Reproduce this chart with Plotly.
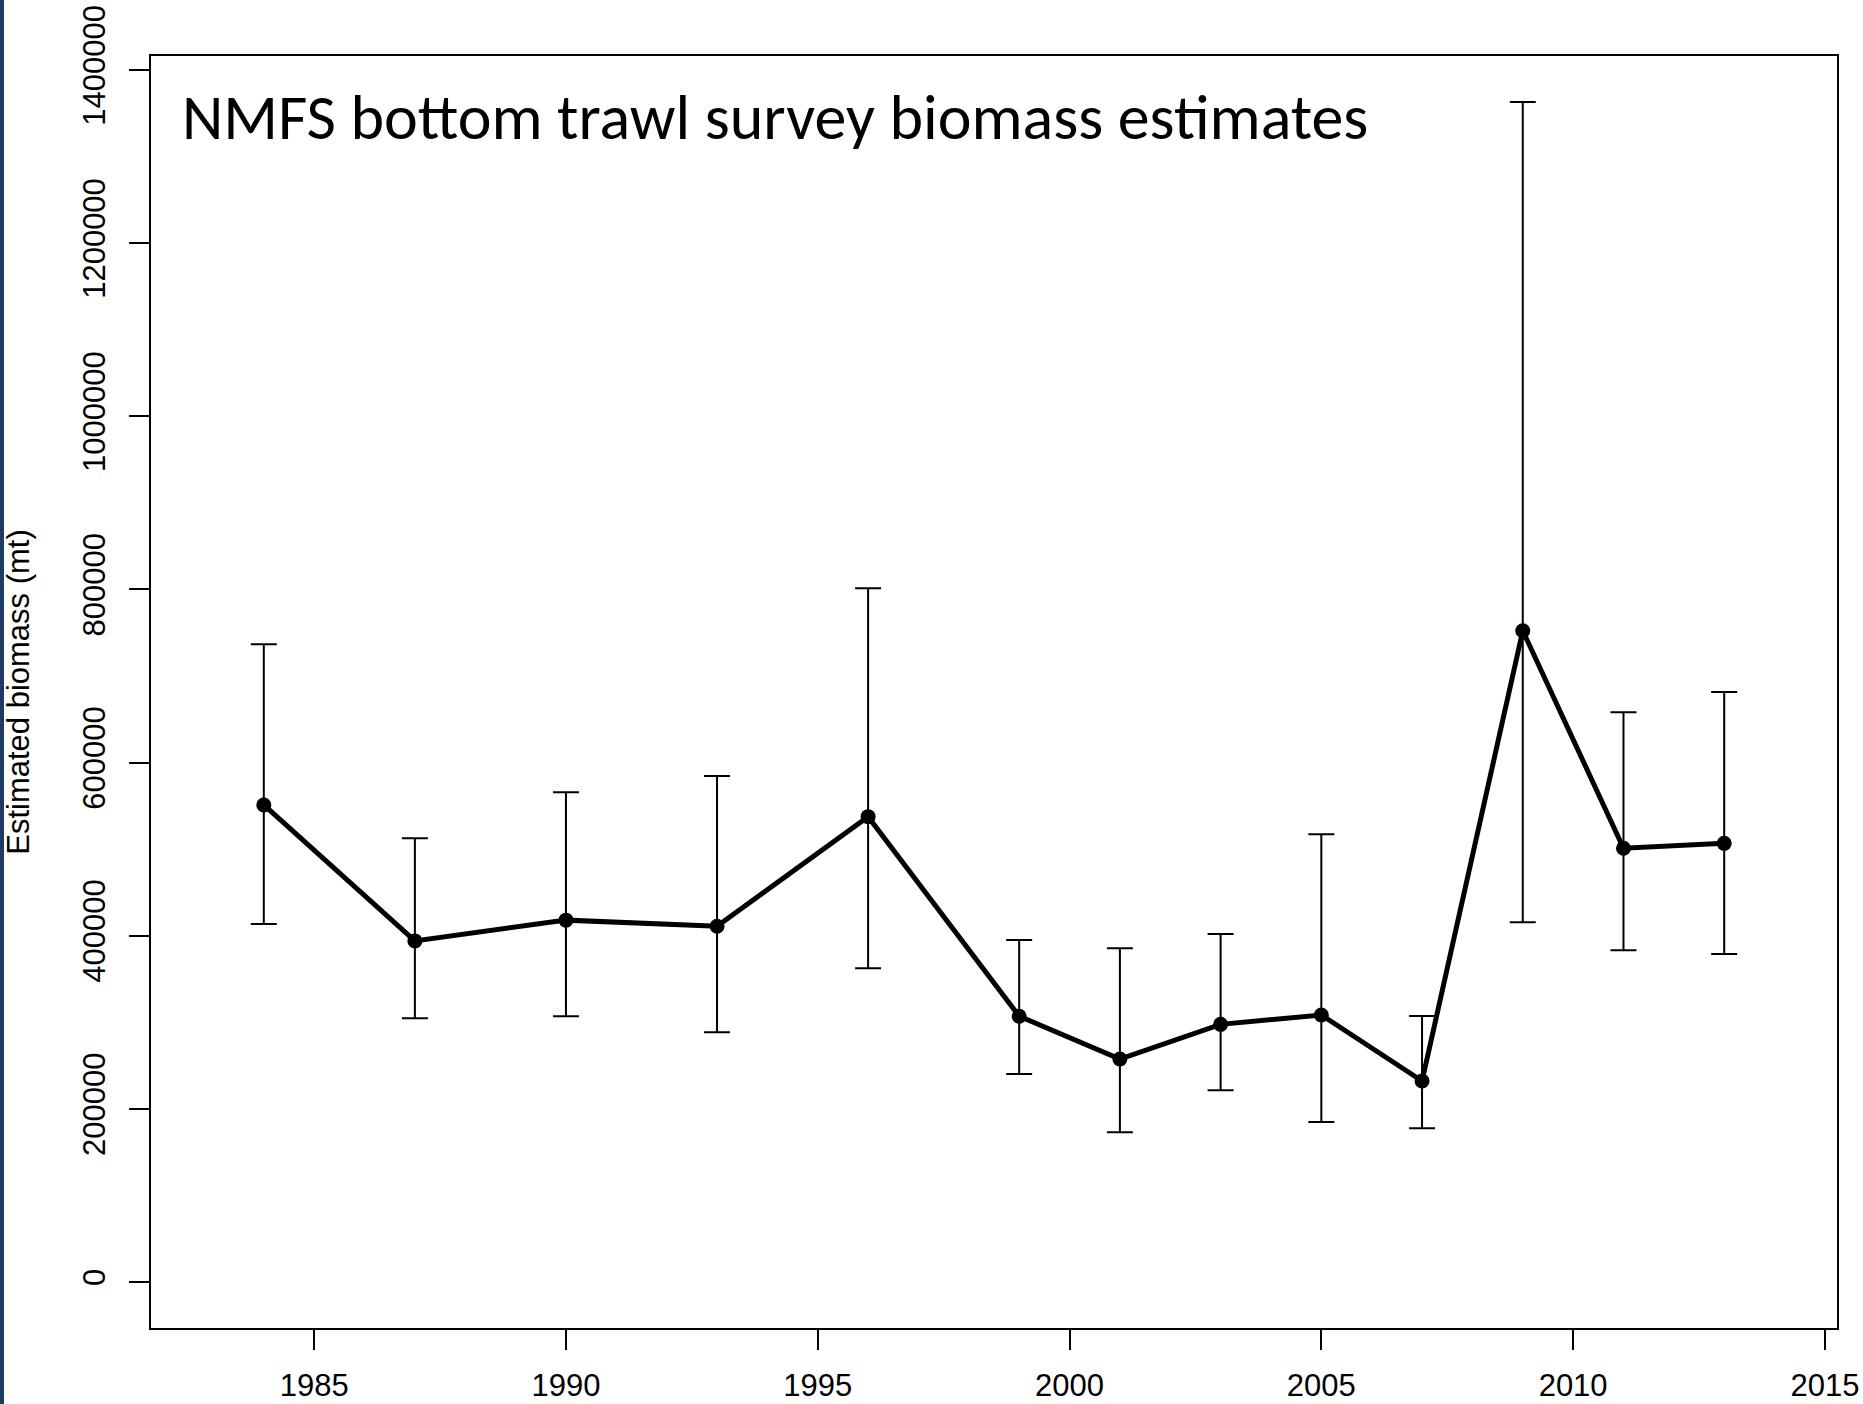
import plotly.graph_objects as go

years = [1984, 1987, 1990, 1993, 1996, 1999, 2001, 2003, 2005, 2007, 2009, 2011, 2013]
biomass = [551000, 394000, 418000, 411000, 537500, 307000, 257600, 297600, 308400, 232200, 752300, 501000, 506700]
upper = [736600, 512500, 565600, 584500, 801300, 395000, 385400, 402000, 517100, 307300, 1363000, 658000, 681500]
lower = [413500, 304600, 306900, 288400, 362300, 240300, 172900, 221400, 184800, 177500, 415500, 383100, 378900]

x_ticks = [1985, 1990, 1995, 2000, 2005, 2010, 2015]
y_ticks = [0, 200000, 400000, 600000, 800000, 1000000, 1200000, 1400000]

title_text = "NMFS bottom trawl survey biomass estimates"
y_title = "Estimated biomass (mt)"

err_plus = [u - b for u, b in zip(upper, biomass)]
err_minus = [b - l for b, l in zip(biomass, lower)]

fig = go.Figure()
fig.add_trace(go.Scatter(
    x=years, y=biomass, mode="lines+markers",
    line=dict(color="black", width=5),
    marker=dict(color="black", size=15),
    error_y=dict(type="data", symmetric=False, array=err_plus, arrayminus=err_minus,
                 color="black", thickness=2, width=13),
    showlegend=False,
))

W, H = 1863, 1404
L, R, T, B = 151, 26, 56, 76
pw, ph = W - L - R, H - T - B

axis_font = dict(family="Liberation Sans, Arial, sans-serif", size=31, color="black")

fig.update_layout(
    width=W, height=H,
    margin=dict(l=L, r=R, t=T, b=B, pad=0, autoexpand=False),
    paper_bgcolor="white", plot_bgcolor="white",
    xaxis=dict(range=[1981.76, 2015.24], tickvals=x_ticks, ticktext=[str(v) for v in x_ticks],
               automargin=False,
               showgrid=False, zeroline=False, showline=True, mirror=True,
               linecolor="black", linewidth=2, ticks="outside", ticklen=20,
               tickwidth=2, tickcolor="black", tickfont=axis_font, ticklabelstandoff=9),
    yaxis=dict(range=[-53135, 1416150], tickvals=y_ticks, ticktext=[str(v) for v in y_ticks],
               tickangle=-90, automargin=False,
               showgrid=False, zeroline=False, showline=True, mirror=True,
               linecolor="black", linewidth=2, ticks="outside", ticklen=20,
               tickwidth=2, tickcolor="black", tickfont=axis_font, ticklabelstandoff=12,
               title=dict(text=y_title, font=axis_font, standoff=38)),
    annotations=[dict(text=title_text, xref="paper", yref="paper",
                      x=(180 - L) / pw, y=(T + ph - 117) / ph,
                      xanchor="left", yanchor="middle", showarrow=False,
                      font=dict(family="Calibri, Carlito, Lato, sans-serif", size=64, color="black"))],
    shapes=[dict(type="rect", xref="paper", yref="paper",
                 x0=-L / pw, x1=(4 - L) / pw, y0=-B / ph, y1=(ph + T) / ph,
                 fillcolor="#1f3a64", line=dict(width=0), layer="above")],
)

fig.write_html(
    "out.html",
    config={"displayModeBar": False},
    post_script=("document.documentElement.style.margin='0';document.body.style.margin='0';"
                 "document.documentElement.style.overflow='hidden';document.body.style.overflow='hidden';"),
)
